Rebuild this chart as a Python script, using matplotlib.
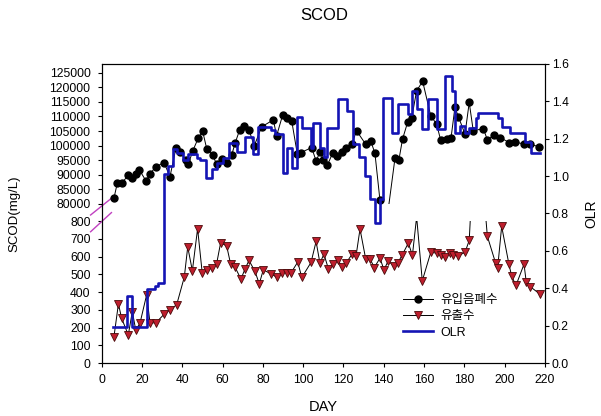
import matplotlib
matplotlib.use("Agg")
import matplotlib.pyplot as plt
import numpy as np
from matplotlib.lines import Line2D
from matplotlib.patches import Rectangle

plt.rcParams['font.family'] = ['Liberation Sans', 'Noto Sans CJK KR']

# influent (유입음폐수), upper part of the broken SCOD axis
inf_day = [6.1, 7.8, 9.9, 13.2, 15.2, 16.8, 18.7, 22.0, 24.0, 27.0, 30.9, 33.9, 36.9, 38.9, 41.8, 43.0,
           45.2, 47.9, 50.1, 52.1, 55.1, 57.0, 59.5, 62.0, 64.5, 66.2, 68.5, 70.6, 73.1, 75.7, 79.4, 85.2,
           86.8, 89.8, 92.1, 94.3, 97.1, 98.9, 104.2, 106.4, 108.4, 110.0, 112.0, 114.6, 116.9, 119.1,
           121.2, 124.1, 126.5, 131.0, 133.5, 135.6, 138.1, 142.0, 145.6, 147.5, 149.3, 151.9, 153.8,
           156.3, 159.3, 163.3, 166.2, 168.2, 171.2, 173.4, 175.3, 177.0, 180.3, 182.4, 184.4, 189.4,
           191.4, 194.7, 197.7, 202.3, 205.1, 209.6, 212.6, 217.2]
inf_scod = [82060, 87300, 87100, 89860, 89040, 90200, 91680, 87900, 90400, 92820, 94200, 89380, 99350,
            97870, 95000, 93640, 98200, 102570, 104980, 99000, 96840, 93640, 95360, 93980, 96730, 100850,
            105430, 106800, 105430, 99930, 106460, 108860, 103360, 110480, 109440, 108520, 97080, 97630,
            99350, 94780, 97870, 95120, 93300, 97420, 96490, 97870, 99350, 100510, 105080, 100510, 101650,
            97420, 81270, 40000, 95910, 95120, 102230, 108180, 109310, 118830, 122030, 110240, 107390,
            101990, 102440, 102780, 113090, 109990, 103950, 114800, 105080, 105870, 101990, 103610,
            102780, 101060, 101300, 100510, 100510, 99580]

# effluent (유출수), lower part; 20000 = off scale, hidden in the break
eff_day = [6.1, 8.3, 9.9, 13.2, 15.2, 16.9, 19.0, 22.3, 24.0, 27.0, 31.0, 33.9, 37.2, 41.0, 42.7, 45.0,
           47.6, 49.9, 52.1, 54.6, 57.0, 59.0, 62.0, 64.0, 66.2, 69.1, 71.1, 73.1, 76.1, 78.2, 80.2, 83.9,
           86.8, 89.6, 91.8, 93.9, 97.3, 99.3, 103.9, 106.4, 108.3, 110.3, 112.5, 115.0, 117.1, 119.4,
           121.3, 124.4, 126.2, 128.2, 131.0, 133.2, 135.3, 138.1, 140.1, 142.2, 145.2, 146.9, 149.2,
           152.2, 154.2, 156.3, 159.1, 163.3, 166.2, 168.2, 170.4, 172.9, 174.5, 176.7, 180.3, 182.4,
           183.0, 190.6, 191.4, 195.5, 196.5, 198.5, 202.1, 203.5, 205.6, 209.6, 210.7, 212.6, 217.5]
eff_scod = [149, 333, 252, 158, 290, 186, 224, 384, 224, 228, 275, 300, 328, 484, 654, 520, 757, 507,
            522, 535, 557, 676, 661, 557, 540, 473, 529, 578, 516, 446, 525, 503, 484, 510, 510, 507,
            569, 482, 567, 685, 563, 614, 531, 559, 582, 540, 563, 616, 601, 755, 588, 586, 538, 591,
            525, 576, 544, 563, 610, 676, 606, 20000, 463, 623, 620, 606, 597, 620, 610, 604, 623, 691,
            20000, 20000, 714, 563, 535, 770, 557, 488, 437, 557, 456, 431, 388]

# OLR, step changes (value holds until next day)
olr_day = [5.4, 12.4, 14.9, 22.3, 26.4, 28.1, 31.0, 33.1, 35.5, 37.5, 40.5, 43.0, 47.1, 48.8, 51.8, 54.6,
           57.1, 60.4, 63.3, 67.0, 71.1, 75.3, 77.7, 83.9, 86.0, 89.8, 91.8, 94.3, 97.1, 99.6, 103.7,
           105.0, 108.3, 110.5, 112.0, 117.4, 121.5, 124.8, 127.8, 130.5, 133.0, 135.6, 138.1, 139.7,
           144.0, 147.2, 152.1, 153.8, 156.6, 158.8, 162.0, 166.2, 170.3, 173.8, 175.3, 177.8, 180.3,
           182.5, 185.9, 187.0, 196.5, 198.5, 202.8, 210.0, 213.0, 217.5]
olr = [0.19, 0.36, 0.19, 0.396, 0.41, 0.43, 1.01, 1.054, 1.147, 1.122, 1.086, 1.116, 1.099, 1.086, 0.988,
       1.036, 1.072, 1.099, 1.175, 1.129, 1.209, 1.116, 1.264, 1.247, 1.223, 1.015, 1.152, 1.041, 1.318,
       1.259, 1.152, 1.286, 1.152, 1.10, 1.259, 1.411, 1.348, 1.17, 1.10, 1.00, 0.876, 0.75, 0.876, 1.42,
       1.232, 1.384, 1.33, 1.455, 1.357, 1.25, 1.41, 1.25, 1.535, 1.455, 1.23, 1.27, 1.23, 1.26, 1.313,
       1.337, 1.31, 1.264, 1.232, 1.184, 1.125, 1.125]

low_ticks = list(range(0, 801, 100))
high_ticks = list(range(80000, 125001, 5000))
olr_ticks = np.arange(0, 1.61, 0.2)


# broken axis: 0-800 and 80000-128000 share one axes
def fwd(v):
    v = np.asarray(v, dtype=float)
    return np.where(v <= 800, v * 0.1771,
                    np.where(v >= 80000, 158.7 + (v - 80000) * 0.002911,
                             141.7 + (v - 800) * (17.0 / 79200)))


def inv(p):
    p = np.asarray(p, dtype=float)
    return np.where(p <= 141.7, p / 0.1771,
                    np.where(p >= 158.7, 80000 + (p - 158.7) / 0.002911,
                             800 + (p - 141.7) * (79200 / 17.0)))


fig = plt.figure(figsize=(6.01, 4.16), dpi=100)
ax = fig.add_axes([0.1692, 0.1274, 0.7376, 0.7188])
ax.set_yscale('function', functions=(fwd, inv))
ax.set_xlim(0, 220)
ax.set_ylim(0, 128000)

inf_day = np.array(inf_day)
inf_scod = np.array(inf_scod, dtype=float)
eff_day = np.array(eff_day)
eff_scod = np.array(eff_scod, dtype=float)

upper_clip = Rectangle((0, 80000), 220, 48000, transform=ax.transData)
lower_clip = Rectangle((0, 0), 220, 800, transform=ax.transData)

l1, = ax.plot(inf_day, inf_scod, color='black', lw=0.7, zorder=3)
l1.set_clip_path(upper_clip)
ax.plot(inf_day, np.ma.masked_less(inf_scod, 80000), ls='none', marker='o', ms=5.0,
        color='black', zorder=4)

l2, = ax.plot(eff_day, eff_scod, color='black', lw=0.7, zorder=3)
l2.set_clip_path(lower_clip)
ax.plot(eff_day, np.ma.masked_greater(eff_scod, 800), ls='none', marker='v', ms=6.2,
        markerfacecolor='#BE1E2D', markeredgecolor='#4A0A0A', markeredgewidth=0.6, zorder=4)

ax.set_yticks(low_ticks + high_ticks)
ax.set_yticklabels([str(t) for t in low_ticks + high_ticks])
ax.yaxis.set_minor_locator(matplotlib.ticker.NullLocator())
ax.set_xticks(range(0, 221, 20))
ax.tick_params(axis='y', direction='out', length=3, width=0.8, labelsize=8.7, pad=5)
ax.tick_params(axis='x', direction='out', length=3, width=0.8, labelsize=8.7, pad=5)

ax2 = ax.twinx()
ax2.step(olr_day, olr, where='post', color='#1414B4', lw=1.9, zorder=5)
ax2.set_ylim(0, 1.6)
ax2.set_yticks(olr_ticks)
ax2.set_yticklabels([f"{t:.1f}" for t in olr_ticks])
ax2.tick_params(direction='out', length=3, width=0.8, labelsize=8.7, pad=2)

for sp in list(ax.spines.values()) + list(ax2.spines.values()):
    sp.set_linewidth(0.8)

# break marks on the left spine
for y0, y1 in [(0.495, 0.551), (0.439, 0.503)]:
    ax.plot([-0.025, 0.022], [y0, y1], color='#C040C0', lw=1.0,
            transform=ax.transAxes, clip_on=False)

ax.set_xlabel('DAY', fontsize=10.5)
ax.xaxis.set_label_coords(0.5, -0.124)
ax.set_ylabel('SCOD(mg/L)', fontsize=9.5)
ax.yaxis.set_label_coords(-0.184, 0.5)
ax2.set_ylabel('OLR', fontsize=10)
ax2.yaxis.set_label_coords(1.088, 0.5)

fig.text(0.54, 1 - 15 / 416, 'SCOD', ha='center', va='center', fontsize=12)

handles = [
    Line2D([], [], color='black', lw=0.7, marker='o', ms=5.0),
    Line2D([], [], color='black', lw=0.7, marker='v', ms=6.2,
           markerfacecolor='#BE1E2D', markeredgecolor='#4A0A0A', markeredgewidth=0.6),
    Line2D([], [], color='#1414B4', lw=1.9),
]
fig.legend(handles, ['유입음폐수', '유출수', 'OLR'], loc='upper left',
           bbox_to_anchor=(403 / 601, 1 - 294 / 416), frameon=False, fontsize=9,
           handlelength=2.4, handletextpad=0.6, labelspacing=0.35, borderpad=0,
           borderaxespad=0)

fig.savefig('out.png', dpi=100)
